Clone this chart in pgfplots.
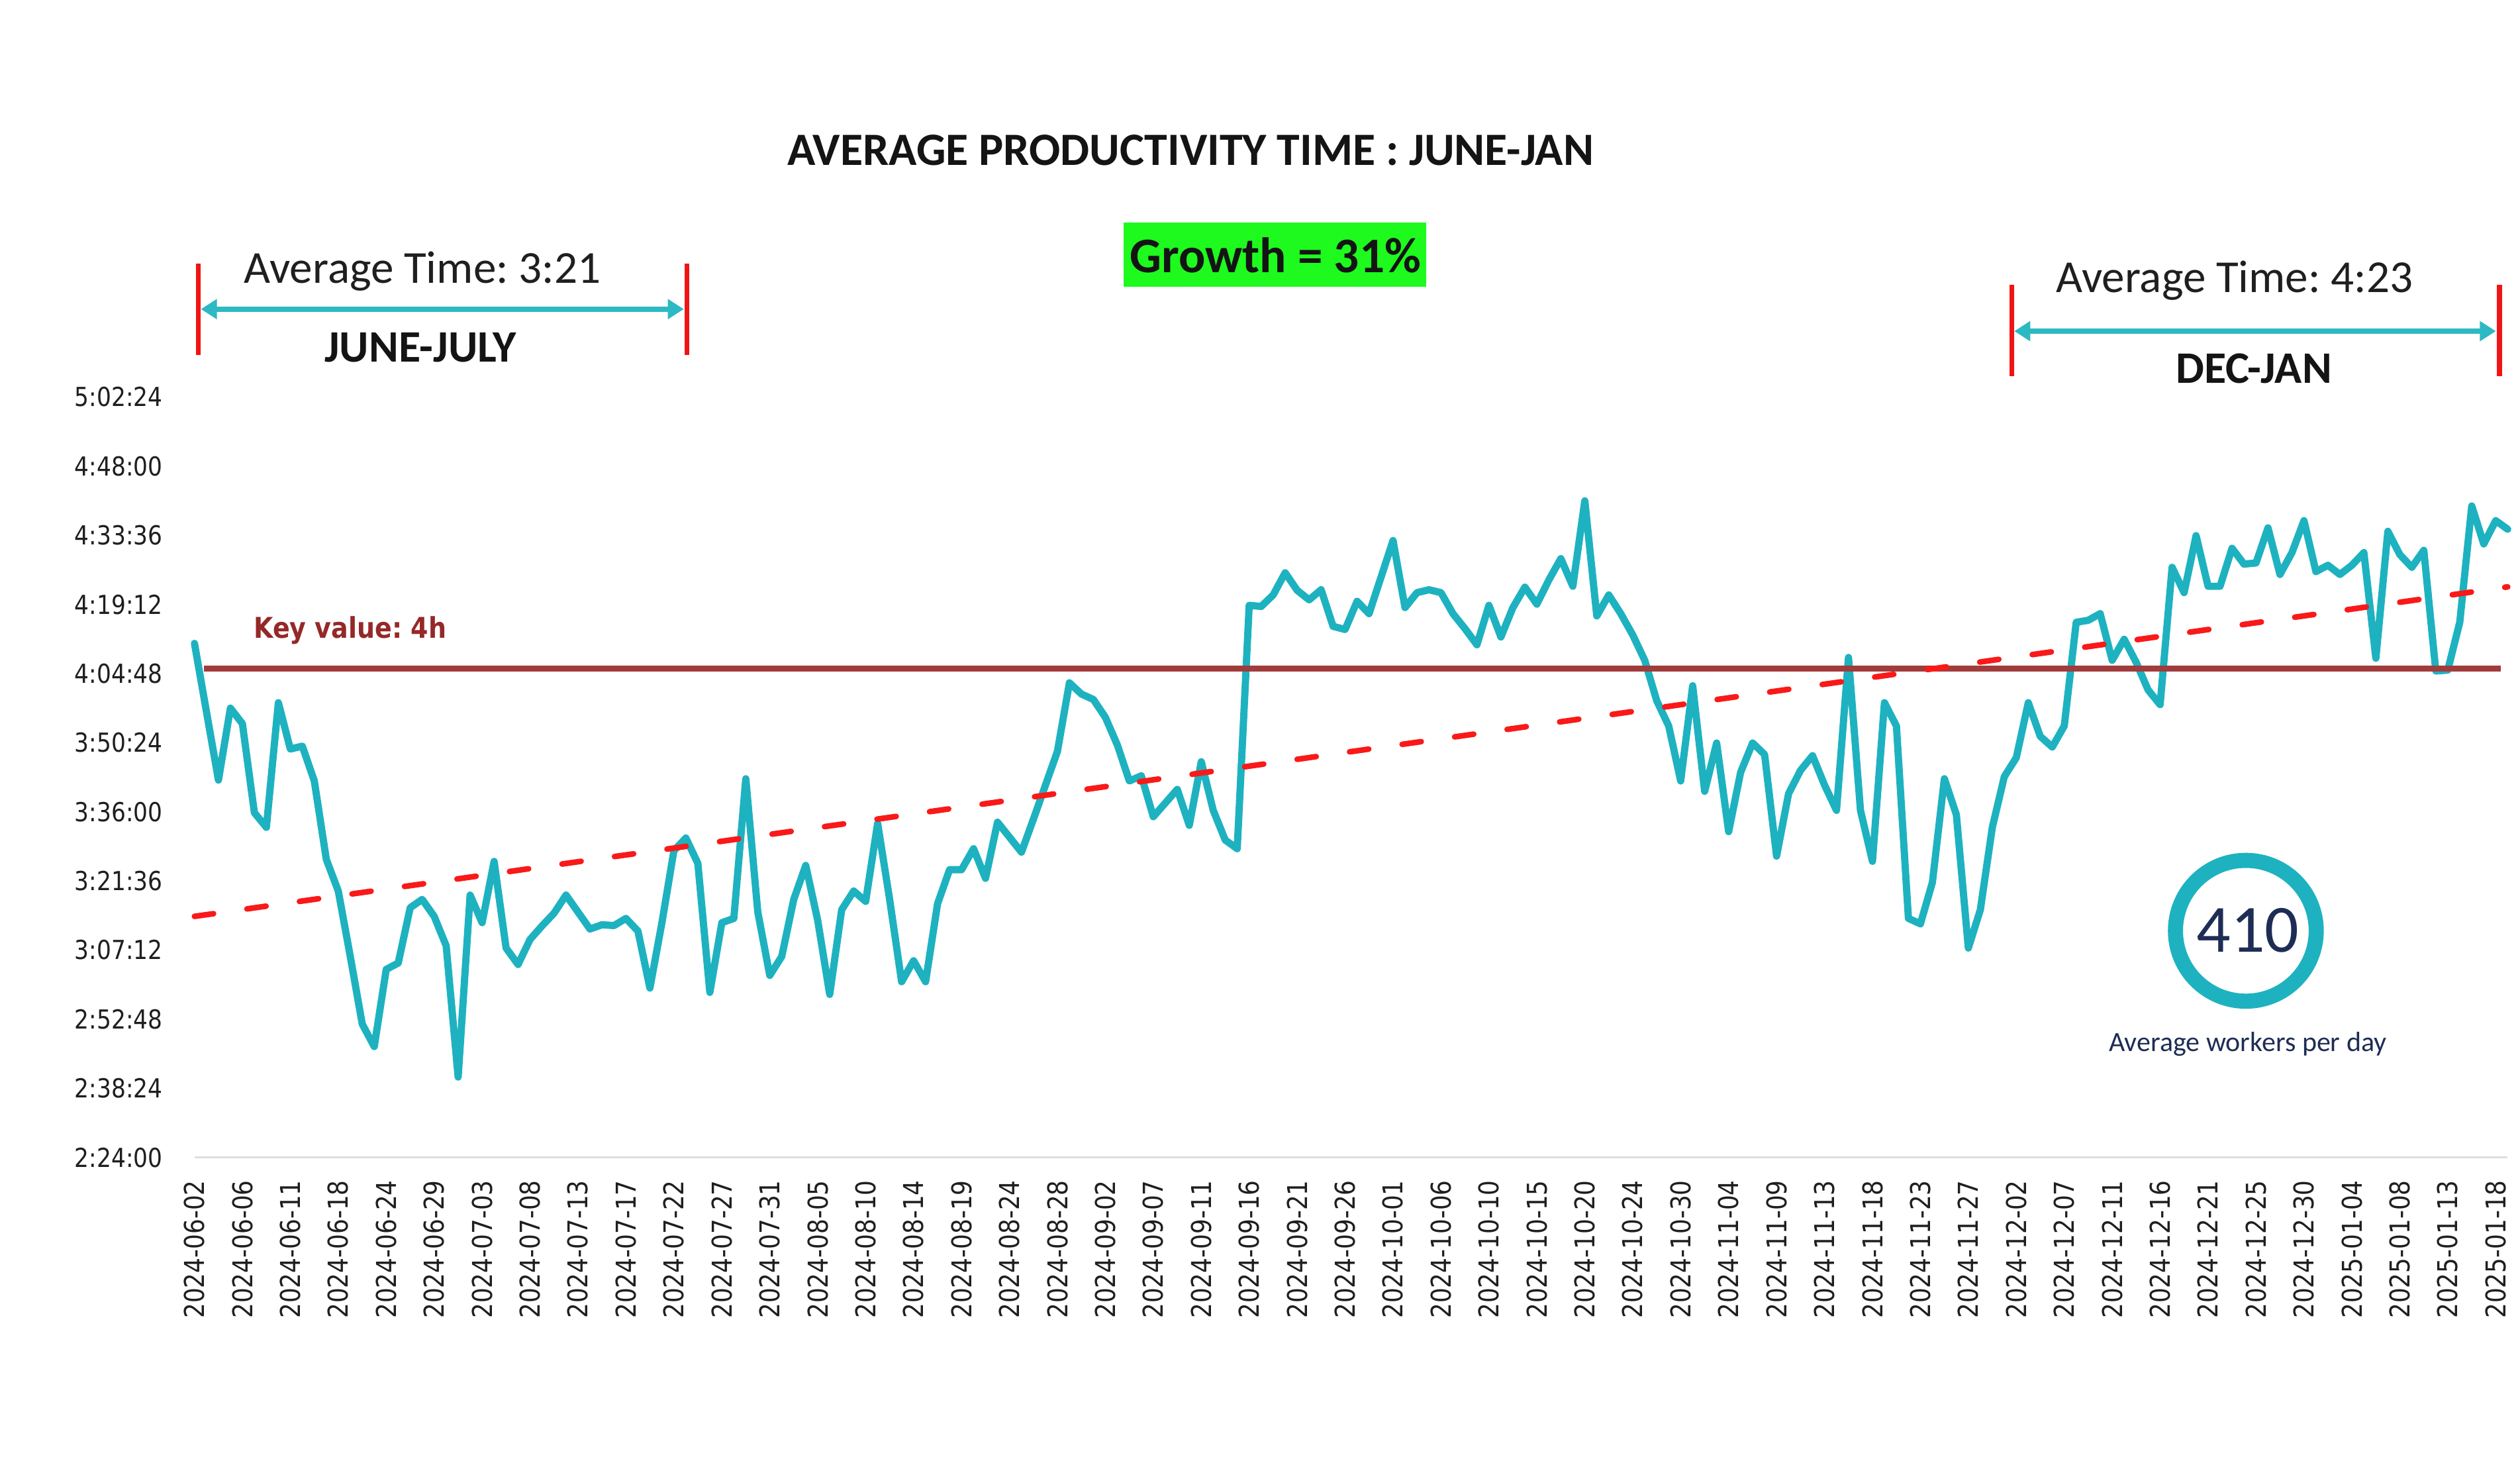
\documentclass[border=0pt]{standalone}
\usepackage{fontspec}
\setmainfont{Carlito}
\newfontfamily\tickfont[FakeStretch=0.87]{DejaVu Sans}
\newfontfamily\keyfont[FakeStretch=0.88]{DejaVu Sans}
\usepackage{pgfplots}
\usepackage{pgfplotstable}
\pgfplotsset{compat=1.18}
\usetikzlibrary{arrows.meta}

\definecolor{lineteal}{RGB}{30,178,192}
\definecolor{arrowteal}{RGB}{45,185,195}
\definecolor{redbar}{RGB}{240,20,20}
\definecolor{trendred}{RGB}{250,25,25}
\definecolor{keybrown}{RGB}{160,60,60}
\definecolor{keytext}{RGB}{150,40,40}
\definecolor{growgreen}{RGB}{30,250,30}
\definecolor{navy}{RGB}{30,45,85}

\pgfplotstableread{
x y
0 4.185
0.5 3.710
0.75 3.960
1 3.906
1.25 3.597
1.5 3.546
1.75 3.979
2 3.818
2.25 3.828
2.5 3.707
2.75 3.435
3 3.325
3.25 3.098
3.5 2.863
3.75 2.785
4 3.053
4.25 3.075
4.5 3.267
4.75 3.296
5 3.237
5.25 3.135
5.5 2.679
5.75 3.311
6 3.215
6.25 3.428
6.5 3.127
6.75 3.070
7 3.157
7.25 3.204
7.5 3.248
7.75 3.311
8.25 3.193
8.5 3.208
8.75 3.205
9 3.230
9.25 3.186
9.5 2.988
9.75 3.215
10 3.465
10.25 3.509
10.5 3.421
10.75 2.973
11 3.215
11.25 3.230
11.5 3.715
11.75 3.252
12 3.032
12.25 3.098
12.5 3.296
12.75 3.414
13 3.223
13.25 2.966
13.5 3.260
13.75 3.325
14 3.289
14.25 3.560
14.5 3.296
14.75 3.010
15 3.083
15.25 3.010
15.5 3.281
15.75 3.399
16 3.399
16.25 3.472
16.5 3.369
16.75 3.564
17.25 3.460
17.5 3.575
18 3.810
18.25 4.048
18.5 4.009
18.75 3.990
19 3.928
19.25 3.832
19.5 3.707
19.75 3.725
20 3.583
20.5 3.678
20.75 3.553
21 3.774
21.25 3.605
21.5 3.502
21.75 3.472
22 4.317
22.25 4.313
22.5 4.353
22.75 4.430
23 4.369
23.25 4.336
23.5 4.371
23.75 4.244
24 4.233
24.25 4.331
24.5 4.288
25 4.542
25.25 4.309
25.5 4.361
25.75 4.371
26 4.361
26.25 4.288
26.5 4.236
26.75 4.180
27 4.317
27.25 4.207
27.5 4.309
27.75 4.380
28 4.321
28.25 4.405
28.5 4.479
28.75 4.383
29 4.680
29.25 4.280
29.5 4.353
29.75 4.288
30 4.214
30.25 4.126
30.5 3.986
30.75 3.898
31 3.707
31.25 4.038
31.5 3.671
31.75 3.839
32 3.531
32.25 3.737
32.5 3.839
32.75 3.799
33 3.446
33.25 3.663
33.5 3.744
33.75 3.795
34 3.693
34.25 3.605
34.5 4.136
34.75 3.605
35 3.428
35.25 3.979
35.5 3.898
35.75 3.230
36 3.211
36.25 3.355
36.5 3.715
36.75 3.590
37 3.127
37.25 3.260
37.5 3.546
37.75 3.722
38 3.788
38.25 3.979
38.5 3.862
38.75 3.825
39 3.898
39.25 4.258
39.5 4.265
39.75 4.288
40 4.126
40.25 4.199
40.5 4.119
40.75 4.023
41 3.972
41.25 4.449
41.5 4.361
41.75 4.559
42 4.383
42.25 4.383
42.5 4.515
42.75 4.460
43 4.464
43.25 4.586
43.5 4.424
43.75 4.500
44 4.611
44.25 4.434
44.5 4.456
44.75 4.424
45 4.456
45.25 4.500
45.5 4.133
45.75 4.574
46 4.493
46.25 4.449
46.5 4.508
46.75 4.089
47 4.092
47.25 4.258
47.5 4.662
47.75 4.530
48 4.611
48.25 4.581
}\prodtable

\pgfplotstableread{
x y
0 3.237
48.25 4.381
}\trendtable

\pgfplotstableread{
x y
0.2 4.097
48.1 4.097
}\keytable

\begin{document}
\frenchspacing
\begin{tikzpicture}[x=1bp,y=1bp]
\begin{axis}[
  name=ax,
  scale only axis, width=1439.3bp, height=473bp,
  xmin=0, xmax=48.25, ymin=2.4, ymax=5.04,
  axis line style={draw=none},
  major tick length=0pt,
  clip=false,
  xtick={0,...,48},
  xticklabels={2024-06-02,2024-06-06,2024-06-11,2024-06-18,2024-06-24,2024-06-29,2024-07-03,2024-07-08,2024-07-13,2024-07-17,2024-07-22,2024-07-27,2024-07-31,2024-08-05,2024-08-10,2024-08-14,2024-08-19,2024-08-24,2024-08-28,2024-09-02,2024-09-07,2024-09-11,2024-09-16,2024-09-21,2024-09-26,2024-10-01,2024-10-06,2024-10-10,2024-10-15,2024-10-20,2024-10-24,2024-10-30,2024-11-04,2024-11-09,2024-11-13,2024-11-18,2024-11-23,2024-11-27,2024-12-02,2024-12-07,2024-12-11,2024-12-16,2024-12-21,2024-12-25,2024-12-30,2025-01-04,2025-01-08,2025-01-13,2025-01-18},
  ytick={2.4,2.64,2.88,3.12,3.36,3.6,3.84,4.08,4.32,4.56,4.8,5.04},
  yticklabels={2:24:00,2:38:24,2:52:48,3:07:12,3:21:36,3:36:00,3:50:24,4:04:48,4:19:12,4:33:36,4:48:00,5:02:24},
  xticklabel style={font=\tickfont\fontsize{17bp}{19bp}\selectfont, text=black!88, inner sep=0pt, yshift=-14bp, rotate=90, anchor=east},
  yticklabel style={font=\tickfont\fontsize{16.3bp}{18bp}\selectfont, text=black!88, inner sep=0pt, anchor=east, xshift=-19.6bp},
]
\draw[black!13, line width=1.5bp] (axis cs:0,2.4) -- (axis cs:48.25,2.4);
\addplot[lineteal, line width=4.5bp, line join=round, line cap=round, mark=none] table[x=x,y=y] {\prodtable};
\addplot[keybrown, line width=4bp, mark=none] table[x=x,y=y] {\keytable};
\addplot[trendred, line width=3.5bp, dash pattern=on 12bp off 21bp, line cap=round, mark=none] table[x=x,y=y] {\trendtable};
\end{axis}

\begin{scope}[shift={(ax.south west)}, shift={(-121,-190)}]
% title and growth
\node[font=\bfseries\fontsize{28.8bp}{30bp}\selectfont, anchor=base, text=black!92] at (740.8,807.2) {AVERAGE PRODUCTIVITY TIME : JUNE-JAN};
\fill[growgreen] (699.2,731.7) rectangle (887.2,771.5);
\node[font=\bfseries\fontsize{31bp}{33bp}\selectfont, anchor=base, text=black!92] at (793.6,740.5) {Growth = 31\%};

% left annotation
\draw[redbar, line width=3bp] (123.3,746) -- (123.3,689);
\draw[redbar, line width=3bp] (427.3,746) -- (427.3,689);
\draw[arrowteal, line width=3.5bp, {Triangle[width=12bp,length=10bp]}-{Triangle[width=12bp,length=10bp]}] (125,717.7) -- (425.5,717.7);
\node[font=\fontsize{28.5bp}{30bp}\selectfont, anchor=base, text=black!88] at (262.8,734) {Average Time: 3:21};
\node[font=\bfseries\fontsize{28bp}{30bp}\selectfont, anchor=base, text=black!92] at (261.6,685) {JUNE-JULY};

% right annotation
\draw[redbar, line width=3bp] (1251.7,732.8) -- (1251.7,676);
\draw[redbar, line width=3bp] (1555.2,732.8) -- (1555.2,676);
\draw[arrowteal, line width=3.5bp, {Triangle[width=12bp,length=10bp]}-{Triangle[width=12bp,length=10bp]}] (1253.3,704) -- (1553,704);
\node[font=\fontsize{28.5bp}{30bp}\selectfont, anchor=base, text=black!88] at (1390.3,728) {Average Time: 4:23};
\node[font=\bfseries\fontsize{28bp}{30bp}\selectfont, anchor=base, text=black!92] at (1402.5,671.7) {DEC-JAN};

% key value label
\node[font=\keyfont\bfseries\fontsize{17.8bp}{19bp}\selectfont, anchor=base west, text=keytext, inner sep=0pt] at (157.7,513.2) {Key value: 4h};

% workers badge
\draw[lineteal, line width=9.4bp] (1397.4,331) circle (43.8);
\node[font=\fontsize{42bp}{44bp}\selectfont, anchor=base, text=navy] at (1398.6,317.7) {410};
\node[font=\fontsize{17.3bp}{19bp}\selectfont, anchor=base, text=navy] at (1398.6,255.8) {Average workers per day};

\pgfresetboundingbox
\path[use as bounding box] (0,0) rectangle (1568,910);
\end{scope}
\end{tikzpicture}
\end{document}
